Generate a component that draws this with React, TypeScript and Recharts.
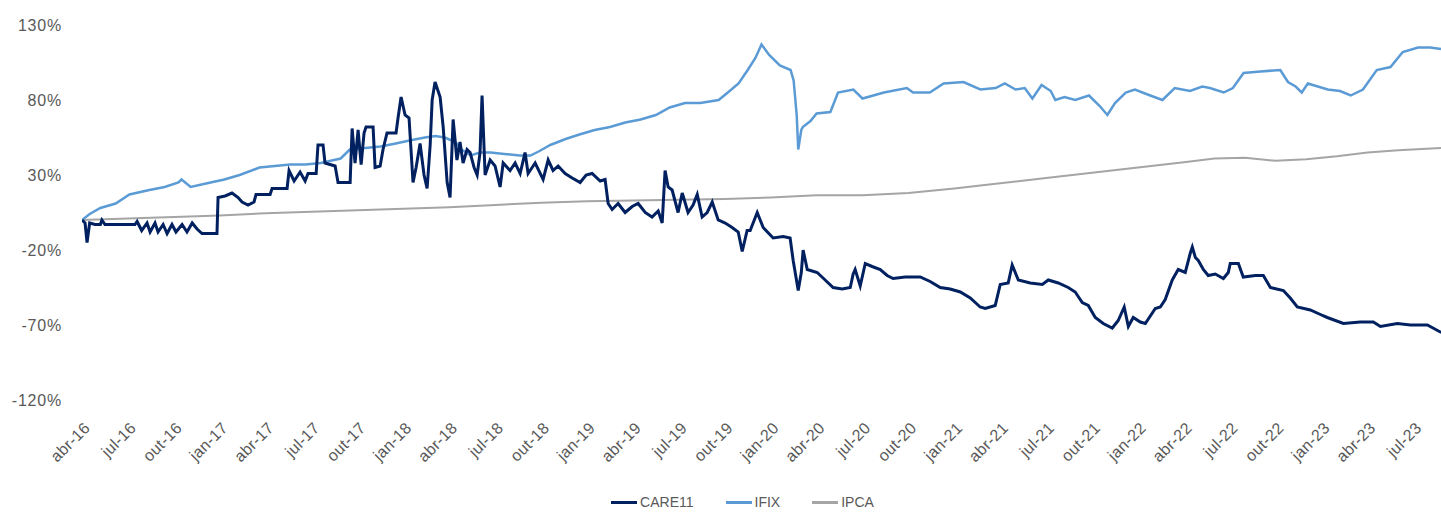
import React from "react";
import { LineChart, Line, XAxis, YAxis, Legend } from "recharts";

// month index t: 0 = abr-16 (months since April 2016)
const tickMonths = [0, 3, 6, 9, 12, 15, 18, 21, 24, 27, 30, 33, 36, 39, 42, 45, 48, 51, 54, 57, 60, 63, 66, 69, 72, 75, 78, 81, 84, 87];
const tickLabels = [
  "abr-16", "jul-16", "out-16", "jan-17", "abr-17", "jul-17", "out-17", "jan-18", "abr-18", "jul-18",
  "out-18", "jan-19", "abr-19", "jul-19", "out-19", "jan-20", "abr-20", "jul-20", "out-20", "jan-21",
  "abr-21", "jul-21", "out-21", "jan-22", "abr-22", "jul-22", "out-22", "jan-23", "abr-23", "jul-23",
];
const yTicks = [-120, -70, -20, 30, 80, 130];

// CARE11 cumulative return (%), [month index, value]
const care11: [number, number][] = [
  [0, 0], [0.2, -2], [0.33, -15], [0.5, -2], [0.85, -3], [1.2, -3], [1.3, 0], [1.5, -3], [2.5, -3], [3.46, -3],
  [3.6, -1], [3.9, -7], [4.25, -2], [4.45, -8], [4.77, -2], [4.97, -8], [5.3, -3], [5.56, -9], [5.88, -3], [6.14, -8],
  [6.54, -3], [6.86, -8], [7.2, -2], [7.52, -6], [7.84, -9], [8.82, -9], [8.89, 15], [9.35, 16], [9.8, 18], [10.2, 15],
  [10.46, 12], [10.85, 10], [11.24, 12], [11.37, 17], [12.29, 17], [12.42, 21], [13.4, 21], [13.53, 33], [13.86, 26], [14.25, 32],
  [14.58, 26], [14.77, 31], [15.3, 31], [15.42, 50], [15.75, 50], [15.88, 38], [16.54, 36], [16.73, 25], [17.52, 25], [17.65, 61],
  [17.84, 38], [18.04, 60], [18.24, 37], [18.43, 58], [18.56, 62], [19.02, 62], [19.15, 35], [19.48, 36], [19.67, 47], [19.93, 58],
  [20.52, 58], [20.65, 68], [20.85, 82], [21.11, 70], [21.37, 68], [21.63, 25], [21.83, 35], [22.09, 51], [22.35, 30], [22.55, 21],
  [22.75, 50], [22.88, 80], [23.07, 92], [23.4, 82], [23.6, 62], [23.86, 25], [24.05, 15], [24.25, 67], [24.5, 40], [24.7, 52],
  [24.9, 38], [25.16, 47], [25.36, 45], [25.62, 35], [25.82, 30], [26.01, 45], [26.14, 83], [26.34, 30], [26.67, 40], [26.99, 36],
  [27.32, 22], [27.52, 38], [27.97, 33], [28.3, 38], [28.63, 31], [28.95, 45], [29.15, 31], [29.61, 38], [30.13, 27], [30.46, 40],
  [30.78, 33], [31.11, 36], [31.57, 31], [32.03, 28], [32.55, 25], [32.94, 30], [33.33, 31], [33.86, 26], [34.18, 27], [34.38, 11],
  [34.64, 7], [35.03, 11], [35.49, 5], [35.95, 9], [36.34, 11], [36.8, 5], [37.25, 2], [37.65, 6], [37.91, -2], [38.1, 33],
  [38.3, 22], [38.56, 20], [38.95, 5], [39.22, 18], [39.6, 5], [39.93, 10], [40.2, 17], [40.52, 2], [40.85, 5], [41.18, 12],
  [41.57, 0], [42.03, -2], [42.48, -5], [42.88, -8], [43.14, -21], [43.46, -7], [43.66, -7], [44.12, 5], [44.51, -5], [45.16, -12],
  [45.82, -11], [46.27, -12], [46.47, -27], [46.8, -47], [47.0, -35], [47.12, -20], [47.39, -33], [48.04, -35], [48.56, -40], [49.08, -45],
  [49.67, -46], [50.2, -45], [50.39, -36], [50.52, -33], [50.85, -44], [51.18, -29], [51.63, -31], [52.16, -33], [52.61, -37], [53.0, -39],
  [53.79, -38], [54.77, -38], [55.42, -41], [56.08, -45], [56.73, -46], [57.39, -48], [58.04, -52], [58.69, -58], [59.02, -59], [59.67, -57],
  [60.0, -43], [60.52, -42], [60.78, -30], [61.18, -40], [61.96, -42], [62.75, -43], [63.14, -40], [63.79, -42], [64.44, -45], [64.9, -48],
  [65.36, -55], [65.75, -57], [66.21, -65], [66.73, -69], [67.32, -72], [67.71, -67], [68.1, -58], [68.37, -71], [68.69, -65], [69.15, -68],
  [69.48, -69], [70.13, -59], [70.46, -58], [70.78, -53], [71.24, -40], [71.63, -33], [72.09, -35], [72.42, -22], [72.55, -18], [72.75, -25],
  [72.94, -27], [73.27, -33], [73.59, -37], [74.05, -36], [74.58, -39], [74.9, -35], [75.03, -29], [75.56, -29], [75.88, -38], [76.67, -37],
  [77.19, -37], [77.65, -45], [78.5, -47], [78.95, -52], [79.41, -58], [80.26, -60], [80.92, -63], [81.37, -65], [82.42, -69], [83.53, -68],
  [84.38, -68], [84.84, -71], [85.95, -69], [86.8, -70], [87.91, -70], [88.82, -75],
];

// IFIX cumulative return (%)
const ifix: [number, number][] = [
  [0, 0], [0.5, 4], [1.2, 8], [2.2, 11], [3.1, 17], [4.4, 20], [5.4, 22], [6.3, 25], [6.5, 27], [7.1, 22],
  [8.4, 25], [9.3, 27], [10.3, 30], [11.6, 35], [12.6, 36], [13.6, 37], [14.6, 37], [15.6, 38], [16.9, 41], [17.5, 47],
  [18.5, 48], [19.5, 49], [20.5, 51], [21.4, 53], [22.4, 55], [23.1, 56], [23.7, 55], [24.4, 52], [24.8, 47], [25.4, 43],
  [26.0, 45], [26.7, 45], [27.6, 44], [28.6, 43], [29.3, 43], [29.9, 46], [30.6, 50], [31.6, 54], [32.5, 57], [33.5, 60],
  [34.5, 62], [35.5, 65], [36.5, 67], [37.5, 70], [38.4, 75], [39.4, 78], [40.4, 78], [41.6, 80], [42.2, 85], [42.9, 91],
  [43.5, 100], [44.0, 108], [44.4, 117], [44.9, 110], [45.6, 103], [46.3, 100], [46.5, 93], [46.7, 70], [46.8, 47], [47.0, 60],
  [47.1, 62], [47.6, 66], [48.0, 71], [48.9, 72], [49.4, 85], [50.4, 87], [51.0, 81], [52.4, 85], [53.9, 88], [54.3, 85],
  [55.4, 85], [56.3, 91], [57.6, 92], [58.7, 87], [59.7, 88], [60.3, 91], [61.0, 87], [61.6, 88], [62.1, 81], [62.7, 90],
  [63.3, 86], [63.6, 80], [64.2, 82], [64.9, 80], [65.8, 83], [66.5, 76], [67.0, 70], [67.5, 78], [68.2, 85], [68.8, 87],
  [69.8, 83], [70.6, 80], [71.4, 88], [72.4, 86], [73.2, 89], [73.7, 88], [74.6, 85], [75.2, 88], [75.9, 98], [77.0, 99],
  [78.3, 100], [78.8, 92], [79.3, 89], [79.7, 85], [80.1, 91], [81.4, 87], [82.2, 86], [82.9, 83], [83.7, 87], [84.6, 100],
  [85.5, 102], [86.3, 112], [87.3, 115], [88.1, 115], [88.8, 114],
];

// IPCA accumulated inflation (%)
const ipca: [number, number][] = [
  [0, 0], [3, 1], [6, 2], [9, 3], [12, 4.5], [15, 5.5], [18, 6.5], [21, 7.5], [24, 8.5], [27, 10],
  [30, 11.5], [33, 12.5], [36, 13], [39, 13.5], [42, 14], [45, 15], [48, 16.5], [51, 16.5], [54, 18], [57, 21],
  [58.7, 23], [60, 24.5], [63, 28], [66, 31.5], [69, 35], [72, 38.5], [74, 41], [76, 41.5], [78, 39.5], [80, 40.5],
  [82, 42.5], [84, 45], [86, 46.5], [88.8, 48],
];

const toRows = (arr: [number, number][]) => arr.map(([t, v]) => ({ t, v }));

const FONT = "'Liberation Sans', Arial, sans-serif";
const TEXT = "#595959";

const XTick = (props: any) => {
  const { x, y, payload } = props;
  const idx = tickMonths.indexOf(payload.value);
  return (
    <g transform={`translate(${x + 2},${y + 14})`}>
      <text x={0} y={0} dy={10} textAnchor="end" transform="rotate(-45)" fill={TEXT} fontSize={16} letterSpacing={0.3} fontFamily={FONT}>
        {tickLabels[idx]}
      </text>
    </g>
  );
};

const legendItems = [
  { name: "CARE11", color: "#002060" },
  { name: "IFIX", color: "#5B9BD5" },
  { name: "IPCA", color: "#A5A5A5" },
];

const LegendContent = () => (
  <div style={{ display: "flex", justifyContent: "center", alignItems: "center", height: 20, paddingLeft: 44, fontFamily: FONT, fontSize: 14, color: TEXT }}>
    {legendItems.map((it) => (
      <div key={it.name} style={{ display: "flex", alignItems: "center", margin: "0 16px" }}>
        <div style={{ width: 26, height: 3, background: it.color, marginRight: 3 }} />
        <span>{it.name}</span>
      </div>
    ))}
  </div>
);

export default function App() {
  return (
    <div style={{ position: "absolute", left: 0, top: 0, width: 1441, height: 512, background: "#fff" }}>
      <LineChart width={1441} height={512} margin={{ top: 25, right: 0, bottom: 0, left: 0 }}>
        <XAxis
          type="number"
          dataKey="t"
          domain={[0, 88.8]}
          ticks={tickMonths}
          interval={0}
          tick={<XTick />}
          axisLine={false}
          tickLine={false}
          height={92}
          allowDataOverflow
        />
        <YAxis
          type="number"
          domain={[-120, 130]}
          ticks={yTicks}
          interval={0}
          tickFormatter={(v: number) => `${v}%`}
          axisLine={false}
          tickLine={false}
          width={82}
          tickMargin={14}
          tick={{ fill: TEXT, fontSize: 16, letterSpacing: 0.8, fontFamily: FONT }}
        />
        <Legend verticalAlign="bottom" height={20} content={<LegendContent />} />
        <Line data={toRows(ipca)} dataKey="v" name="IPCA" stroke="#A5A5A5" strokeWidth={2} dot={false} isAnimationActive={false} />
        <Line data={toRows(ifix)} dataKey="v" name="IFIX" stroke="#5B9BD5" strokeWidth={2.5} dot={false} isAnimationActive={false} />
        <Line data={toRows(care11)} dataKey="v" name="CARE11" stroke="#002060" strokeWidth={3} dot={false} isAnimationActive={false} />
      </LineChart>
    </div>
  );
}
